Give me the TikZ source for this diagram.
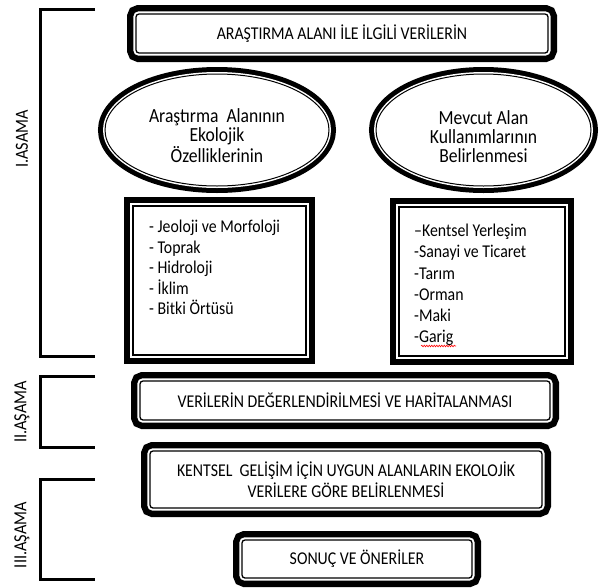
\documentclass[tikz,border=0pt]{standalone}
\usepackage{fontspec}
\setmainfont{Carlito}[FakeStretch=0.88]
\usetikzlibrary{shapes.geometric,decorations.pathmorphing}

\begin{document}
\begin{tikzpicture}[x=1pt,y=-1pt,
    kutu/.style={rectangle,rounded corners=3pt,inner sep=0pt,align=center,text=black,
        preaction={draw=black,line width=18pt},
        fill=white,draw=white,line width=5.3pt,
        postaction={draw=black,line width=1.3pt},
        font=\fontsize{18}{21}\selectfont},
    liste/.style={kutu,sharp corners},
    elips/.style={ellipse,inner sep=0pt,align=center,text=black,text height=64pt,text depth=0pt,
        preaction={draw=black,line width=14pt},
        fill=white,draw=white,line width=4pt,
        postaction={draw=black,line width=1pt},
        font=\fontsize{20}{19}\selectfont},
    metin/.style={inner sep=0pt,align=left,anchor=north west,font=\fontsize{18}{20.5}\selectfont},
    asama/.style={rotate=90,inner sep=0pt,font=\fontsize{18.5}{20}\selectfont},
    parantez/.style={line width=3pt}]
    \useasboundingbox (0,0) rectangle (613,587);

    % asamalar
    \draw[parantez] (95,9) -- (40,9) -- (40,356) -- (95,356);
    \draw[parantez] (95,376) -- (40,376) -- (40,447) -- (95,447);
    \draw[parantez] (95,479) -- (40,479) -- (40,579) -- (95,579);
    \node[asama] at (22,139) (a1) {I.ASAMA};
    \node[asama] at (22,412) (a2) {II.AŞAMA};
    \node[asama] at (22,535) (a3) {III.AŞAMA};

    % I. asama
    \node[kutu,minimum width=412,minimum height=39] at (342,33.5) (ust) {ARAŞTIRMA ALANI İLE İLGİLİ VERİLERİN};
    \node[elips,minimum width=224,minimum height=112] at (217,130) (e1) {Araştırma\ \ Alanının\\Ekolojik\\Özelliklerinin};
    \node[elips,minimum width=215,minimum height=112] at (483.5,130) (e2) {Mevcut Alan\\Kullanımlarının\\Belirlenmesi};
    \node[liste,minimum width=173,minimum height=149] at (219.5,280.5) (l1) {};
    \node[liste,minimum width=166,minimum height=149] at (482,281.5) (l2) {};
    \node[metin] at (149,220) (m1) {- Jeoloji ve Morfoloji\\- Toprak\\- Hidroloji\\- İklim\\- Bitki Örtüsü};
    \node[metin,font=\fontsize{18}{21.2}\selectfont] at (414,224) (m2) {–Kentsel Yerleşim\\-Sanayi ve Ticaret\\-Tarım\\-Orman\\-Maki\\-Garig};
    \draw[red,line width=0.6pt,decorate,decoration={snake,amplitude=0.8pt,segment length=2.5pt}] (421,346) -- (456,346);

    % II. ve III. asama
    \node[kutu,minimum width=410,minimum height=39] at (345,400.5) (veri) {VERİLERİN DEĞERLENDİRİLMESİ VE HARİTALANMASI};
    \node[kutu,minimum width=392,minimum height=57] at (346,479.5) (gelisim) {KENTSEL\ \ GELİŞİM İÇİN UYGUN ALANLARIN EKOLOJİK\\VERİLERE GÖRE BELİRLENMESİ};
    \node[kutu,minimum width=230,minimum height=38] at (357,559) (sonuc) {SONUÇ VE ÖNERİLER};
\end{tikzpicture}
\end{document}
